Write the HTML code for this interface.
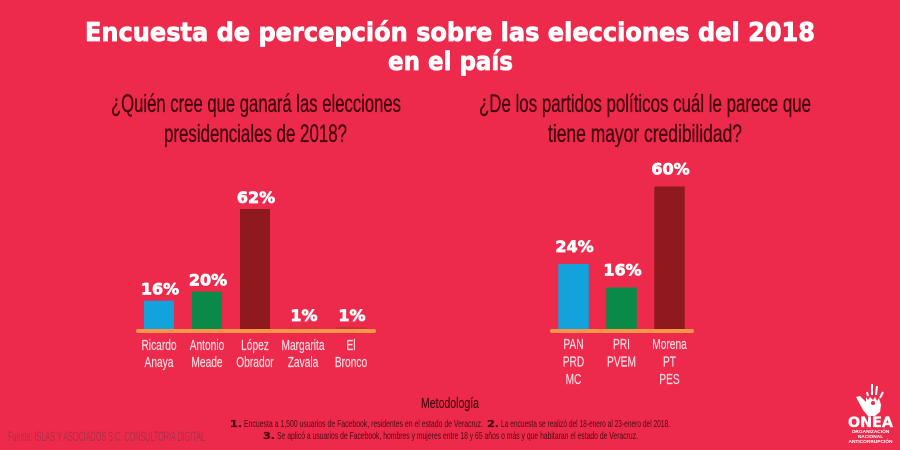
<!DOCTYPE html>
<html lang="es">
<head>
<meta charset="utf-8">
<title>Encuesta de percepción sobre las elecciones del 2018</title>
<style>
  html, body { margin: 0; padding: 0; width: 900px; height: 450px; overflow: hidden; background: #ee2a4c; }
  svg { display: block; }
  .title { font-family: "DejaVu Sans", "Liberation Sans", sans-serif; font-weight: 700; font-size: 26px; fill: #fff; stroke: #fff; stroke-width: .8px; }
  .question { font-family: "Liberation Sans", sans-serif; font-size: 25px; fill: #45060f; stroke: #45060f; stroke-width: .35px; }
  .value { font-family: "DejaVu Sans", "Liberation Sans", sans-serif; font-weight: 700; font-size: 16px; fill: #fff; text-anchor: middle; stroke: #fff; stroke-width: .7px; }
  .cat { font-family: "Liberation Sans", sans-serif; font-size: 15px; fill: #fbdde2; text-anchor: middle; stroke: #fbdde2; stroke-width: .15px; }
  .meth { font-family: "Liberation Sans", sans-serif; font-size: 10.5px; fill: #4a0a14; }
  .num { font-family: "DejaVu Sans", sans-serif; font-weight: 700; font-size: 10px; fill: #4a0a14; stroke: #4a0a14; stroke-width: .3px; }
</style>
</head>
<body>
<svg id="chart" width="900" height="450" viewBox="0 0 900 450" xmlns="http://www.w3.org/2000/svg">
  <rect x="0" y="0" width="900" height="450" fill="#ee2a4c"/>

  <g>
    <text class="title" x="85" y="41" textLength="730" lengthAdjust="spacingAndGlyphs">Encuesta de percepción sobre las elecciones del 2018</text>
    <text class="title" x="388" y="70" textLength="125" lengthAdjust="spacingAndGlyphs">en el país</text>
  </g>

  <g>
    <text class="question" x="111" y="112" textLength="290" lengthAdjust="spacingAndGlyphs">¿Quién cree que ganará las elecciones</text>
    <text class="question" x="164" y="142" textLength="183" lengthAdjust="spacingAndGlyphs">presidenciales de 2018?</text>
  </g>
  <g>
    <text class="question" x="479" y="112" textLength="332" lengthAdjust="spacingAndGlyphs">¿De los partidos políticos cuál le parece que</text>
    <text class="question" x="548" y="142" textLength="194" lengthAdjust="spacingAndGlyphs">tiene mayor credibilidad?</text>
  </g>

  <g id="left-chart"></g>
  <g id="right-chart"></g>

  <g>
    <text x="421" y="408" textLength="58" lengthAdjust="spacingAndGlyphs" style="font-family:'Liberation Sans',sans-serif;font-size:15px;fill:#45060f;stroke:#45060f;stroke-width:.2px">Metodología</text>
    <text class="num" x="230" y="427" textLength="12" lengthAdjust="spacingAndGlyphs">1.</text>
    <text class="meth" x="244" y="427" textLength="239" lengthAdjust="spacingAndGlyphs">Encuesta a 1,500 usuarios de Facebook, residentes en el estado de Veracruz.</text>
    <text class="num" x="487" y="427" textLength="12" lengthAdjust="spacingAndGlyphs">2.</text>
    <text class="meth" x="501" y="427" textLength="169" lengthAdjust="spacingAndGlyphs">La encuesta se realizó del 18-enero al 23-enero del 2018.</text>
    <text class="num" x="263" y="439" textLength="12" lengthAdjust="spacingAndGlyphs">3.</text>
    <text class="meth" x="277" y="439" textLength="361" lengthAdjust="spacingAndGlyphs">Se aplicó a usuarios de Facebook, hombres y mujeres entre 18 y 65 años o más y que habitaran el estado de Veracruz.</text>
  </g>

  <text x="8" y="441" textLength="197" lengthAdjust="spacingAndGlyphs" style="font-family:'Liberation Sans',sans-serif;font-size:14px;fill:#a6304a">Fuente: ISLAS Y ASOCIADOS S.C. CONSULTORIA DIGITAL</text>

  <g>
    <path fill="#fff" d="M856 397 L860 396 L866 402 L866 397 L868 400 L870 397 L873 400 L875 397 L877 401 L879 398 L881 405 L880 412 L875 416 L868 416 L863 410 Z"/>
    <path stroke="#fff" stroke-width="2" fill="none" d="M867 392 L868 396 M872 384 L872 395 M877 386 L876 395 M883 392 L880 398"/>
    <circle cx="873" cy="403" r="2" fill="#ee2a4c"/>
    <text x="848" y="427" textLength="45" lengthAdjust="spacingAndGlyphs" style="font-family:'DejaVu Sans',sans-serif;font-weight:700;font-size:14px;fill:#fff;stroke:#fff;stroke-width:.3px">ONEA</text>
    <text x="870.5" y="433" text-anchor="middle" style="font-family:'Liberation Sans',sans-serif;font-weight:700;font-size:4.8px;fill:#fff">ORGANIZACIÓN</text>
    <text x="870.5" y="438" text-anchor="middle" style="font-family:'Liberation Sans',sans-serif;font-weight:700;font-size:4.8px;fill:#fff">NACIONAL</text>
    <text x="870.5" y="443" text-anchor="middle" style="font-family:'Liberation Sans',sans-serif;font-weight:700;font-size:4.8px;fill:#fff">ANTICORRUPCIÓN</text>
  </g>
</svg>

<script>
// Left chart data
const leftCategories = [["Ricardo", "Anaya"], ["Antonio", "Meade"], ["López", "Obrador"], ["Margarita", "Zavala"], ["El", "Bronco"]];
// Bar lengths as drawn in the picture (the source graphic is not exactly proportional to its labels)
const leftValues = [14.6, 19.3, 62, 1, 1];
const leftLabels = ["16%", "20%", "62%", "1%", "1%"];

// Right chart data
const rightCategories = [["PAN", "PRD", "MC"], ["PRI", "PVEM"], ["Morena", "PT", "PES"]];
const rightValues = [27.4, 17.5, 60];
const rightLabels = ["24%", "16%", "60%"];

const barColors = ["#12a3dc", "#0a8a48", "#8e1a1e", "#d8333f", "#c92e3e"];
const NS = "http://www.w3.org/2000/svg";

function drawChart(rootId, prefix, categories, values, labels, cfg) {
  const root = document.getElementById(rootId);
  const yScale = v => cfg.baseY - v * cfg.pxPerUnit;
  const xCenter = i => cfg.firstCenter + i * cfg.step;

  values.forEach((v, i) => {
    const bar = document.createElementNS(NS, "rect");
    
    
    bar.setAttribute("x", xCenter(i) - cfg.barWidth / 2);
    bar.setAttribute("y", yScale(v));
    bar.setAttribute("width", cfg.barWidth);
    bar.setAttribute("height", cfg.baseY - yScale(v));
    bar.setAttribute("fill", barColors[i]);
    root.appendChild(bar);

    const label = document.createElementNS(NS, "text");
    
    
    label.setAttribute("class", "value");
    label.setAttribute("x", xCenter(i) + 1);
    label.setAttribute("y", yScale(v) - cfg.labelGap);
    label.textContent = labels[i];
    root.appendChild(label);

    categories[i].forEach((line, k) => {
      const cat = document.createElementNS(NS, "text");
      
      
      cat.setAttribute("class", "cat");
      cat.setAttribute("transform", "translate(" + xCenter(i) + "," + (cfg.catY + k * cfg.catLine) + ") scale(0.68,1)");
      cat.textContent = line;
      root.appendChild(cat);
    });
  });

  const axis = document.createElementNS(NS, "rect");
  
  
  axis.setAttribute("x", cfg.axisX0);
  axis.setAttribute("y", cfg.baseY);
  axis.setAttribute("width", cfg.axisX1 - cfg.axisX0);
  axis.setAttribute("height", 4);
  axis.setAttribute("rx", 2);
  axis.setAttribute("fill", "#f8964a");
  root.appendChild(axis);
}

drawChart("left-chart", "left", leftCategories, leftValues, leftLabels, {
  baseY: 329, pxPerUnit: 1.935, firstCenter: 159, step: 48, barWidth: 30,
  labelGap: 6, catY: 350, catLine: 17, axisX0: 136, axisX1: 376
});
drawChart("right-chart", "right", rightCategories, rightValues, rightLabels, {
  baseY: 329, pxPerUnit: 2.375, firstCenter: 573.5, step: 48, barWidth: 30.5,
  labelGap: 12, catY: 349, catLine: 17.5, axisX0: 550, axisX1: 694
});
</script>
</body>
</html>
